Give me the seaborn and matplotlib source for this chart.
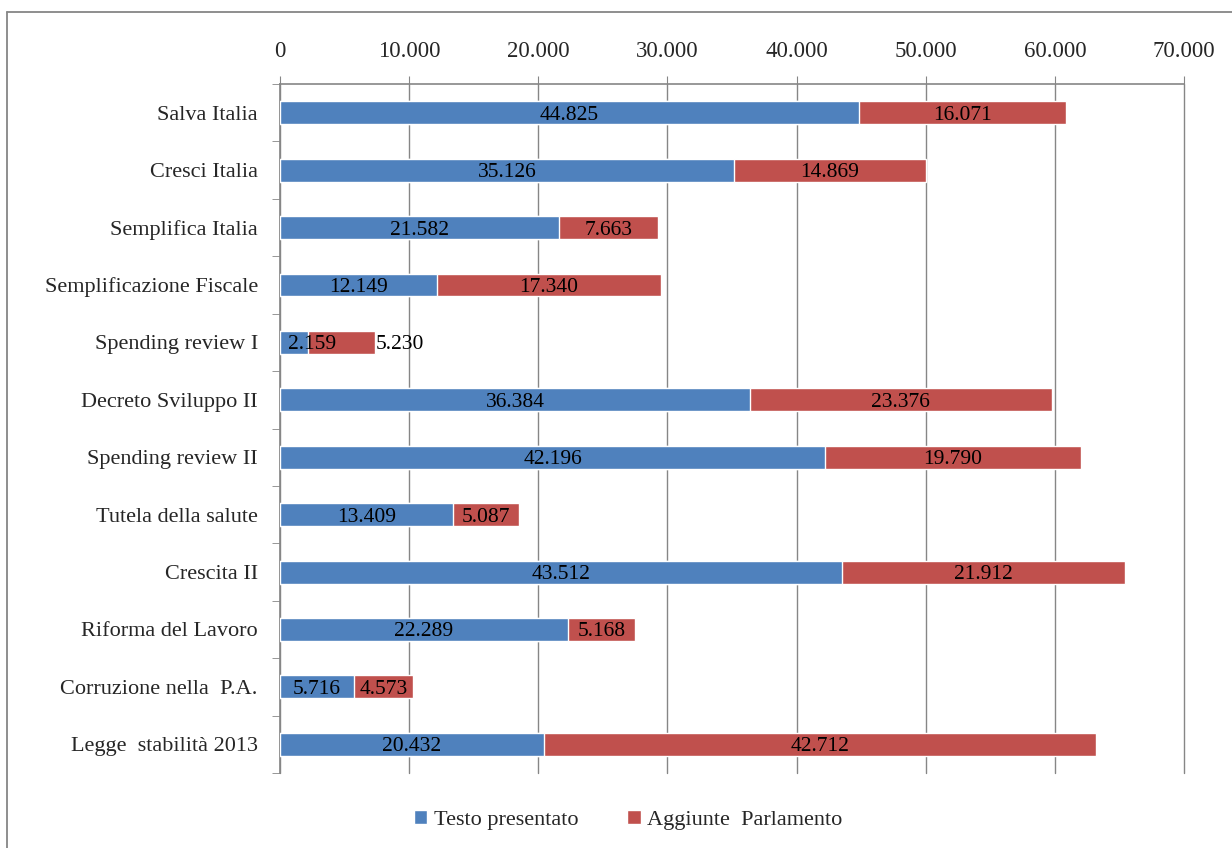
import pandas as pd
import matplotlib.pyplot as plt
import seaborn as sns
from matplotlib.ticker import FuncFormatter, FixedLocator
from matplotlib.lines import Line2D
from matplotlib.patches import Patch

# Data
decreti = ['Salva Italia', 'Cresci Italia', 'Semplifica Italia', 'Semplificazione Fiscale',
           'Spending review I', 'Decreto Sviluppo II', 'Spending review II', 'Tutela della salute',
           'Crescita II', 'Riforma del Lavoro', 'Corruzione nella  P.A.', 'Legge  stabilità 2013']
testo_presentato = [44825, 35126, 21582, 12149, 2159, 36384, 42196, 13409, 43512, 22289, 5716, 20432]
aggiunte_parlamento = [16071, 14869, 7663, 17340, 5230, 23376, 19790, 5087, 21912, 5168, 4573, 42712]

df = pd.DataFrame({'Decreto': decreti,
                   'Testo': testo_presentato,
                   'Aggiunte': aggiunte_parlamento})
df['Totale'] = df['Testo'] + df['Aggiunte']

sns.set_style('white')
plt.rcParams['font.family'] = ['Liberation Serif', 'DejaVu Serif']

blue = '#4F81BD'
red = '#C0504D'
grey = '#868686'

fig = plt.figure(figsize=(12.32, 8.48), dpi=100)
ax = fig.add_axes([0.2273, 0.0884, 0.7338, 0.8125])

# Stacked bars: total in red, then presented text in blue on top
sns.barplot(data=df, x='Totale', y='Decreto', orient='h', color=red, width=0.4,
            saturation=1, ax=ax, zorder=3)
sns.barplot(data=df, x='Testo', y='Decreto', orient='h', color=blue, width=0.4,
            saturation=1, ax=ax, zorder=4)

def it_fmt(v):
    return f'{int(round(v)):,}'.replace(',', '.')

# Value labels (tiny segments get their labels nudged, as in the original)
lab = dict(va='center_baseline', fontsize=15.5, color='black', zorder=5)
for i, row in df.iterrows():
    if row['Testo'] < 4000:
        ax.text(600, i, it_fmt(row['Testo']), ha='left', **lab)
        ax.text(row['Totale'] + 50, i, it_fmt(row['Aggiunte']), ha='left', **lab)
        continue
    ax.text(row['Testo'] / 2, i, it_fmt(row['Testo']), ha='center', **lab)
    ax.text(row['Testo'] + row['Aggiunte'] / 2, i, it_fmt(row['Aggiunte']), ha='center', **lab)

ax.set_xlim(0, 70000)
ax.set_ylim(len(decreti) - 0.5, -0.5)
ax.xaxis.set_major_locator(FixedLocator(range(0, 70001, 10000)))
ax.xaxis.set_major_formatter(FuncFormatter(lambda v, p: it_fmt(v)))
ax.xaxis.tick_top()
ax.xaxis.set_label_position('top')
ax.tick_params(axis='x', which='major', direction='out', length=6, color=grey,
               labelsize=16.5, pad=10, top=True, bottom=False)
ax.grid(axis='x', color=grey, linewidth=1, zorder=0)
ax.grid(axis='y', visible=False)
for gl in ax.get_xgridlines():
    gl.set_clip_on(False)

# Category ticks at the boundaries, labels at the centers
ax.yaxis.set_minor_locator(FixedLocator([k - 0.5 for k in range(len(decreti) + 1)]))
ax.tick_params(axis='y', which='minor', direction='out', length=6, color=grey, left=True)
ax.tick_params(axis='y', which='major', length=0, labelsize=16, pad=16)

ax.set_xlabel('')
ax.set_ylabel('')

for side in ['bottom', 'right']:
    ax.spines[side].set_visible(False)
for side in ['top', 'left']:
    ax.spines[side].set_color(grey)
    ax.spines[side].set_linewidth(1.2)

handles = [Patch(facecolor=blue, label='Testo presentato'),
           Patch(facecolor=red, label='Aggiunte  Parlamento')]
fig.legend(handles=handles, loc='center', bbox_to_anchor=(0.51, 0.033), ncol=2,
           frameon=False, fontsize=16, handlelength=0.6, handleheight=0.6,
           handletextpad=0.3, columnspacing=2.2)

# Outer chart frame (top and left edges visible)
fig.add_artist(Line2D([0.0057, 0.0057], [0.0, 0.986], color=grey, linewidth=1.3,
                      transform=fig.transFigure))
fig.add_artist(Line2D([0.0057, 1.0], [0.986, 0.986], color=grey, linewidth=1.3,
                      transform=fig.transFigure))

fig.savefig('out.png', dpi=100)
